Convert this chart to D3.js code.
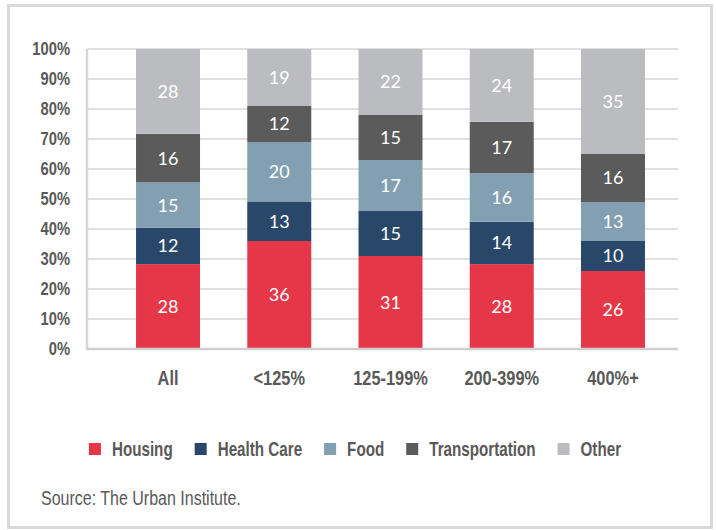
<!DOCTYPE html>
<html>
<head>
<meta charset="utf-8">
<script src="https://cdn.jsdelivr.net/npm/d3@7"></script>
<style>
  body { margin: 0; background: #fff; }
  svg { display: block; }
  .tick-label, .cat-label, .legend-label { font-family: "Liberation Sans", Arial, sans-serif; font-weight: bold; fill: #595959; }
  .val { font-family: Lato, "Open Sans", sans-serif; font-size: 18px; fill: #fff; }
  .source { font-family: "Liberation Sans", Arial, sans-serif; font-size: 20px; fill: #595959; }
</style>
</head>
<body>
<svg width="716" height="530"></svg>
<script>
var categories = ["All", "<125%", "125-199%", "200-399%", "400%+"];
var series = ["Housing", "Health Care", "Food", "Transportation", "Other"];
var housing = [28, 36, 31, 28, 26];
var healthCare = [12, 13, 15, 14, 10];
var food = [15, 20, 17, 16, 13];
var transportation = [16, 12, 15, 17, 16];
var other = [28, 19, 22, 24, 35];
var colors = ["#e63748", "#284769", "#839fb2", "#5b5b5b", "#bbbcc0"];
var yTicks = [0, 0.1, 0.2, 0.3, 0.4, 0.5, 0.6, 0.7, 0.8, 0.9, 1];

var svg = d3.select("svg"),
    width = +svg.attr("width"),
    height = +svg.attr("height");

// the original font is a condensed grotesque; squeeze a normal one horizontally
function place(xv, yv, sx) { return "translate(" + xv + "," + yv + ") scale(" + (sx || 0.82) + ",1)"; }

var cols = [housing, healthCare, food, transportation, other];
var rows = categories.map(function(c, i) {
  var r = {cat: c};
  series.forEach(function(s, j) { r[s] = cols[j][i]; });
  return r;
});

// outer frame
svg.append("rect")
    .attr("x", 8.5).attr("y", 5.5)
    .attr("width", 703).attr("height", 522)
    .attr("fill", "none")
    .attr("stroke", "#d9d9d9")
    .attr("stroke-width", 3);

var gridLeft = 87, gridRight = 678;

var x = d3.scaleBand()
    .domain(categories)
    .range([112.4, 668.6])
    .paddingInner(0.4247)
    .paddingOuter(0.2124);

var y = d3.scaleLinear().domain([0, 1]).range([349, 49]);

// gridlines
svg.append("g").selectAll("line")
  .data(yTicks.filter(function(d) { return d > 0; }))
  .enter().append("line")
    .attr("x1", gridLeft).attr("x2", gridRight)
    .attr("y1", function(d) { return y(d); })
    .attr("y2", function(d) { return y(d); })
    .attr("stroke", "#e1e1e1")
    .attr("stroke-width", 2);

// left axis line
svg.append("line")
    .attr("x1", gridLeft).attr("x2", gridLeft)
    .attr("y1", y(1)).attr("y2", y(0) + 1)
    .attr("stroke", "#d6d6d6")
    .attr("stroke-width", 2.5);

svg.append("g").selectAll("text")
  .data(yTicks)
  .enter().append("text")
    .attr("class", "tick-label")
    .attr("transform", function(d) { return place(70, y(d)); })
    .attr("dy", "0.36em")
    .attr("text-anchor", "end")
    .attr("font-size", "18px")
    .text(d3.format(".0%"));

var stack = d3.stack().keys(series).offset(d3.stackOffsetExpand);
var layers = stack(rows);

var g = svg.append("g").selectAll("g")
  .data(layers)
  .enter().append("g")
    .attr("fill", function(d, i) { return colors[i]; });

g.selectAll("rect")
  .data(function(d) { return d; })
  .enter().append("rect")
    .attr("x", function(d) { return x(d.data.cat); })
    .attr("width", x.bandwidth())
    .attr("y", function(d) { return y(d[1]); })
    .attr("height", function(d) { return y(d[0]) - y(d[1]); });

layers.forEach(function(layer) {
  svg.append("g").selectAll("text")
    .data(layer)
    .enter().append("text")
      .attr("class", "val")
      .attr("x", function(d) { return x(d.data.cat) + x.bandwidth() / 2; })
      .attr("y", function(d) { return (y(d[0]) + y(d[1])) / 2; })
      .attr("dy", "0.36em")
      .attr("text-anchor", "middle")
      .text(function(d) { return d.data[layer.key]; });
});

// bottom axis line
svg.append("line")
    .attr("x1", gridLeft).attr("x2", gridRight)
    .attr("y1", y(0)).attr("y2", y(0))
    .attr("stroke", "#cfcfcf")
    .attr("stroke-width", 2.5);

svg.append("g").selectAll("text")
  .data(categories)
  .enter().append("text")
    .attr("class", "cat-label")
    .attr("transform", function(d) { return place(x(d) + x.bandwidth() / 2, 385); })
    .attr("text-anchor", "middle")
    .attr("font-size", "20px")
    .text(function(d) { return d; });

// legend
var legend = svg.append("g");
var lx = 0, lsq = 0.76, lgap = 22;
series.forEach(function(s, i) {
  var item = legend.append("g").attr("transform", "translate(" + lx + ",0)");
  item.append("rect")
      .attr("x", 0).attr("y", -6)
      .attr("width", 12).attr("height", 12)
      .attr("fill", colors[i]);
  var t = item.append("text")
      .attr("class", "legend-label")
      .attr("transform", place(23, 0, lsq))
      .attr("dy", "0.36em")
      .attr("font-size", "20px")
      .text(s);
  lx += 23 + t.node().getComputedTextLength() * lsq + lgap;
});
var legendWidth = lx - lgap;
legend.attr("transform", "translate(" + (355 - legendWidth / 2) + ",449)");

svg.append("text")
    .attr("class", "source")
    .attr("transform", "translate(41,505) scale(0.8,1)")
    .text("Source: The Urban Institute.");
</script>
</body>
</html>
